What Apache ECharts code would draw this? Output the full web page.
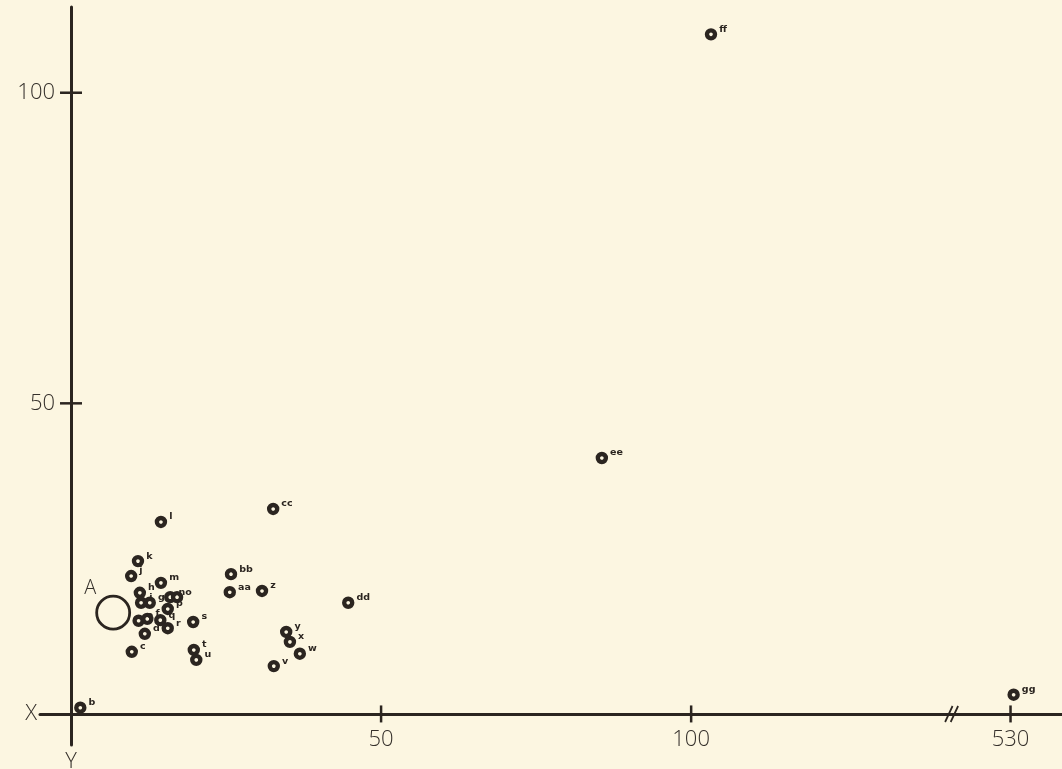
<!DOCTYPE html>
<html>
<head>
<meta charset="utf-8">
<script src="https://cdn.jsdelivr.net/npm/echarts@6/dist/echarts.min.js"></script>
<style>
  html, body { margin: 0; padding: 0; background: #fcf6e1; }
  #chart { width: 1062px; height: 769px; }
</style>
</head>
<body>
<div id="chart"></div>
<script>
// data
var names = ['b','c','d','e','f','g','h','i','j','k','l','m','n','o','p','q','r','s','t','u','v','w','x','y','z','aa','bb','cc','dd','ee','ff','gg'];
var xs = [1.5, 9.8, 11.9, 10.9, 12.3, 12.7, 11.1, 11.3, 9.7, 10.8, 14.5, 14.5, 16.0, 17.1, 15.6, 14.4, 15.6, 19.7, 19.8, 20.2, 32.7, 36.9, 35.3, 34.7, 30.8, 25.6, 25.8, 32.6, 44.7, 85.6, 103.2, 530.5];
var ys = [1.0, 10.0, 12.9, 15.0, 15.3, 17.9, 19.5, 17.9, 22.2, 24.6, 30.9, 21.1, 18.8, 18.8, 16.9, 15.1, 13.8, 14.8, 10.3, 8.7, 7.7, 9.7, 11.6, 13.2, 19.8, 19.6, 22.5, 33.0, 17.9, 41.2, 109.4, 3.1];
var bigPoint = {name: 'A', x: 6.8, y: 16.3};

var xTicks = [50, 100, 530];
var yTicks = [50, 100];

// broken x axis: 530 is drawn where ~151.5 would be
var BREAK_AT = 530, BREAK_POS = 151.5, BREAK_MARK = 142;
function brk(v) { return v >= BREAK_AT - 20 ? v - BREAK_AT + BREAK_POS : v; }

var ink = '#2b2520';
var txt = '#35302b';
var bg = '#fcf6e1';
var chart = echarts.init(document.getElementById('chart'));

var pts = names.map(function (n, i) { return {name: n, value: [brk(xs[i]), ys[i]]}; });
var tickLabel = {};
xTicks.forEach(function (t) { tickLabel[brk(t)] = String(t); });

chart.setOption({
	backgroundColor: bg,
	animation: false,
	grid: {left: 40, right: 0, top: 7, bottom: 24, containLabel: false, outerBoundsMode: 'none'},
	xAxis: {
		type: 'value', min: -5, max: 159.8,
		name: 'X', nameLocation: 'start', nameGap: 3,
		nameTextStyle: {fontFamily: 'Open Sans', fontWeight: 300, fontSize: 22, color: txt},
		axisLine: {onZero: true, lineStyle: {color: ink, width: 3}},
		axisTick: {show: false},
		splitLine: {show: false},
		axisLabel: {
			// labels sit at the grid edge, pull them up to the zero line
			customValues: xTicks.map(brk), margin: -16,
			fontFamily: 'Open Sans', fontWeight: 300, fontSize: 22, color: txt,
			formatter: function (v) { return tickLabel[v] || ''; }
		}
	},
	yAxis: {
		type: 'value', min: -5, max: 113.8,
		name: 'Y', nameLocation: 'start', nameGap: 6,
		nameTextStyle: {fontFamily: 'Open Sans', fontWeight: 300, fontSize: 22, color: txt, verticalAlign: 'top'},
		axisLine: {onZero: true, lineStyle: {color: ink, width: 3}},
		axisTick: {show: false},
		splitLine: {show: false},
		axisLabel: {
			customValues: yTicks, margin: -15,
			fontFamily: 'Open Sans', fontWeight: 300, fontSize: 22, color: txt
		}
	},
	series: [{
		// tick marks crossing the axes
		type: 'scatter', silent: true, symbol: 'rect',
		data: xTicks.map(function (t) { return {value: [brk(t), 0], symbolSize: [2.5, 17]}; })
			.concat(yTicks.map(function (t) { return {value: [0, t], symbolSize: [22, 2.5]}; })),
		itemStyle: {color: ink, opacity: 1}
	}, {
		// axis break mark
		type: 'scatter', silent: true,
		symbol: 'path://M0,20 L8,0 M6,20 L14,0',
		symbolSize: [13, 16],
		data: [[BREAK_MARK, 0]],
		itemStyle: {color: 'none', borderColor: ink, borderWidth: 2, opacity: 1}
	}, {
		type: 'scatter',
		symbol: 'circle', symbolSize: 8,
		data: pts,
		itemStyle: {color: bg, borderColor: ink, borderWidth: 4.4, opacity: 1},
		label: {
			show: true, position: 'right', distance: 2, offset: [0, -5],
			formatter: '{b}',
			fontFamily: 'DejaVu Sans', fontWeight: 'bold', fontSize: 9.5, color: ink
		}
	}, {
		type: 'scatter',
		symbol: 'circle', symbolSize: 33,
		data: [{name: bigPoint.name, value: [bigPoint.x, bigPoint.y]}],
		itemStyle: {color: 'none', borderColor: ink, borderWidth: 2.8, opacity: 1},
		label: {
			show: true, position: [-4, -5], align: 'center', verticalAlign: 'middle',
			formatter: '{b}',
			fontFamily: 'Open Sans', fontWeight: 300, fontSize: 20, color: txt
		}
	}]
});
</script>
</body>
</html>
